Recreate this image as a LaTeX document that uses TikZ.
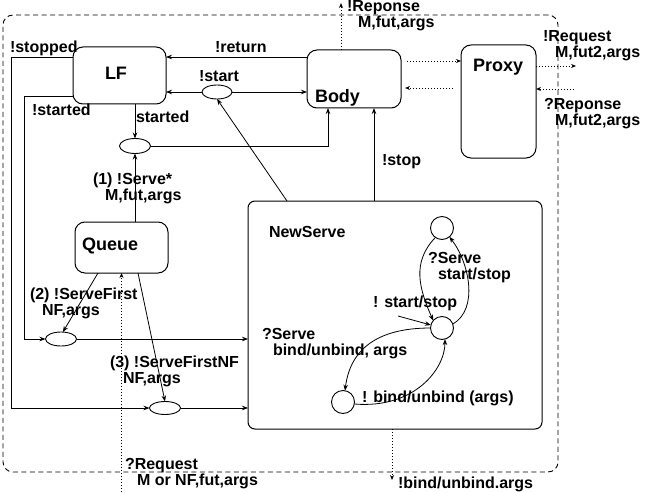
\documentclass[tikz,border=0pt]{standalone}
\usepackage{fontspec}
\setmainfont{Liberation Sans}
\usetikzlibrary{arrows.meta,shapes.geometric,calc}
\begin{document}
\begin{tikzpicture}[x=1pt,y=-1pt,
  box/.style={draw,rounded corners=10pt,line width=1pt,inner sep=0pt,outer sep=0pt},
  ell/.style={draw,ellipse,line width=0.9pt,inner sep=0pt,outer sep=0pt},
  st/.style={draw,circle,line width=0.9pt,inner sep=0pt,outer sep=0pt,minimum size=23pt},
  arr/.style={line width=0.8pt,-{Stealth[length=6pt,width=4.5pt]}},
  dotarr/.style={line width=0.9pt,dash pattern=on 1pt off 2pt,-{Stealth[length=5pt,width=4pt]}},
  lab/.style={anchor=north west,inner sep=0pt,outer sep=0pt,font=\fontsize{16}{16}\selectfont\bfseries,align=left},
  ttl/.style={anchor=north west,inner sep=0pt,outer sep=0pt,font=\fontsize{18}{18}\selectfont\bfseries}]
\useasboundingbox (0,0) rectangle (647,492);

% frame
\node[draw,line width=0.9pt,dash pattern=on 5pt off 3.5pt,rounded corners=10pt,inner sep=0pt,
  minimum width=555pt,minimum height=457pt] (frame) at (280.5,243.5) {};

% boxes
\node[box,minimum width=93pt,minimum height=57pt] (LF) at (119.5,75.5) {};
\node[box,minimum width=94pt,minimum height=58pt] (Body) at (354,79) {};
\node[box,minimum width=75pt,minimum height=113pt] (Proxy) at (498.5,101.5) {};
\node[box,minimum width=93pt,minimum height=51pt] (Queue) at (121.5,247.5) {};
\node[box,rounded corners=7pt,minimum width=294pt,minimum height=228pt] (NewServe) at (395,315) {};

\node[ttl] (tLF) at (105,67) {LF};
\node[ttl] (tBody) at (315,89) {Body};
\node[ttl] (tProxy) at (473,59) {Proxy};
\node[ttl] (tQueue) at (82,238) {Queue};
\node[lab] (tNS) at (269,226.4) {NewServe};

% ellipses
\node[ell,minimum width=30pt,minimum height=14pt] (eStart) at (217,92) {};
\node[ell,minimum width=31pt,minimum height=15pt] (eStarted) at (135,146) {};
\node[ell,minimum width=31pt,minimum height=14pt] (eTwo) at (61,339) {};
\node[ell,minimum width=31pt,minimum height=13pt] (eThree) at (165,408) {};

% states
\node[st] (cTop) at (442,228) {};
\node[st] (cMid) at (442,328) {};
\node[st] (cBot) at (343,402) {};

% helper coordinates
\coordinate (retA) at ([yshift=-7pt]Body.north west);
\coordinate (stpA) at ([yshift=-10pt]LF.north west);
\coordinate (srtA) at ([yshift=-49pt]LF.north west);
\coordinate (bodyIn) at ([xshift=21pt]Body.south west);
\coordinate (nsA) at ([xshift=39pt]NewServe.north west);
\coordinate (nsB) at ([xshift=126pt]NewServe.north west);
\coordinate (qA) at ([xshift=23pt]Queue.south west);
\coordinate (qB) at ([xshift=63pt]Queue.south west);
\coordinate (reqB) at (121.5,492);
\coordinate (repT) at (341,3);
\coordinate (bpA) at ([xshift=6pt,yshift=-11pt]Body.north east);
\coordinate (pbA) at ([xshift=-8pt,yshift=-43pt]Proxy.north west);
\coordinate (pbB) at ([xshift=4pt,yshift=-38pt]Body.north east);
\coordinate (prA) at ([yshift=-21pt]Proxy.north east);
\coordinate (prOut) at (576,66);
\coordinate (prIn) at (574,89);
\coordinate (bindB) at (392,480);
\coordinate (init) at (398,316);

% connectors
\draw[arr] (retA) -- (retA -| LF.east);
\draw[arr] (eStart.west) -- (eStart.west -| LF.east);
\draw[arr] (eStart.east) -- (eStart.east -| Body.west);
\draw[arr] (nsA) -- (eStart.south);
\draw[arr] (eStarted.north |- LF.south) -- (eStarted.north);
\draw[arr] (eStarted.east) -| (bodyIn);
\draw[arr] (eStarted.south |- Queue.north) -- (eStarted.south);
\draw[arr] (nsB) -- (nsB |- Body.south);
\draw[arr] (stpA) -- ++(-62,0) |- (eThree.west);
\draw[arr] (eThree.east) -- (eThree.east -| NewServe.west);
\draw[arr] (srtA) -- ++(-49,0) |- (eTwo.west);
\draw[arr] (eTwo.east) -- (eTwo.east -| NewServe.west);
\draw[arr] (qA) -- (eTwo.75);
\draw[arr] (qB) -- (eThree.north);

\draw[dotarr] (reqB) -- (Queue.south);
\draw[dotarr] (repT |- Body.north) -- (repT);
\draw[dotarr] (bpA) -- (bpA -| Proxy.west);
\draw[dotarr] (pbA) -- (pbB);
\draw[dotarr] (prA) -- (prOut);
\draw[dotarr] (prIn) -- (prIn -| Proxy.east);
\draw[dotarr] (bindB |- NewServe.south) -- (bindB);

% NewServe internal
\draw[arr] (cTop.235) .. controls +(-24,25) and +(-14,-32) .. (cMid.140);
\draw[arr] (cMid.20) .. controls +(26,-15) and +(20,26) .. (cTop.-50);
\draw[arr] (init) -- (cMid.165);
\draw[arr] (cMid.180) .. controls +(-55,0) and +(5,-40) .. (cBot.80);
\draw[arr] (cBot.-10) .. controls +(60,5) and +(0,30) .. (cMid.-75);

% labels
\node[lab] (l1) at (10,41.4) {!stopped};
\node[lab] (l2) at (215,41.4) {!return};
\node[lab] (l3) at (199,70.4) {!start};
\node[lab] (l4) at (32,104.4) {!started};
\node[lab] (l5) at (136,111.4) {started};
\node[lab] (l6) at (93,173.4) {(1) !Serve*\\\hspace*{12pt}M,fut,args};
\node[lab] (l7) at (30,288.4) {(2) !ServeFirst\\\hspace*{12pt}NF,args};
\node[lab] (l8) at (110,356.4) {(3) !ServeFirstNF\\\hspace*{13pt}NF,args};
\node[lab] (l9) at (125,458.4) {?Request\\\hspace*{12pt}M or NF,fut,args};
\node[lab] (l10) at (428,252.4) {?Serve\\\hspace*{10pt}start/stop};
\node[lab] (l11) at (373,296.4) {! start/stop};
\node[lab] (l12) at (262,328.4) {?Serve\\\hspace*{11pt}bind/unbind, args};
\node[lab] (l13) at (362,391.4) {! bind/unbind (args)};
\node[lab] (l14) at (382,154.4) {!stop};
\node[lab] (l15) at (347,0.4) {!Reponse\\\hspace*{11pt}M,fut,args};
\node[lab] (l16) at (543,30.4) {!Request\\\hspace*{12pt}M,fut2,args};
\node[lab] (l17) at (544,98.4) {?Reponse\\\hspace*{11pt}M,fut2,args};
\node[lab] (l18) at (398,476.4) {!bind/unbind.args};
\end{tikzpicture}
\end{document}
